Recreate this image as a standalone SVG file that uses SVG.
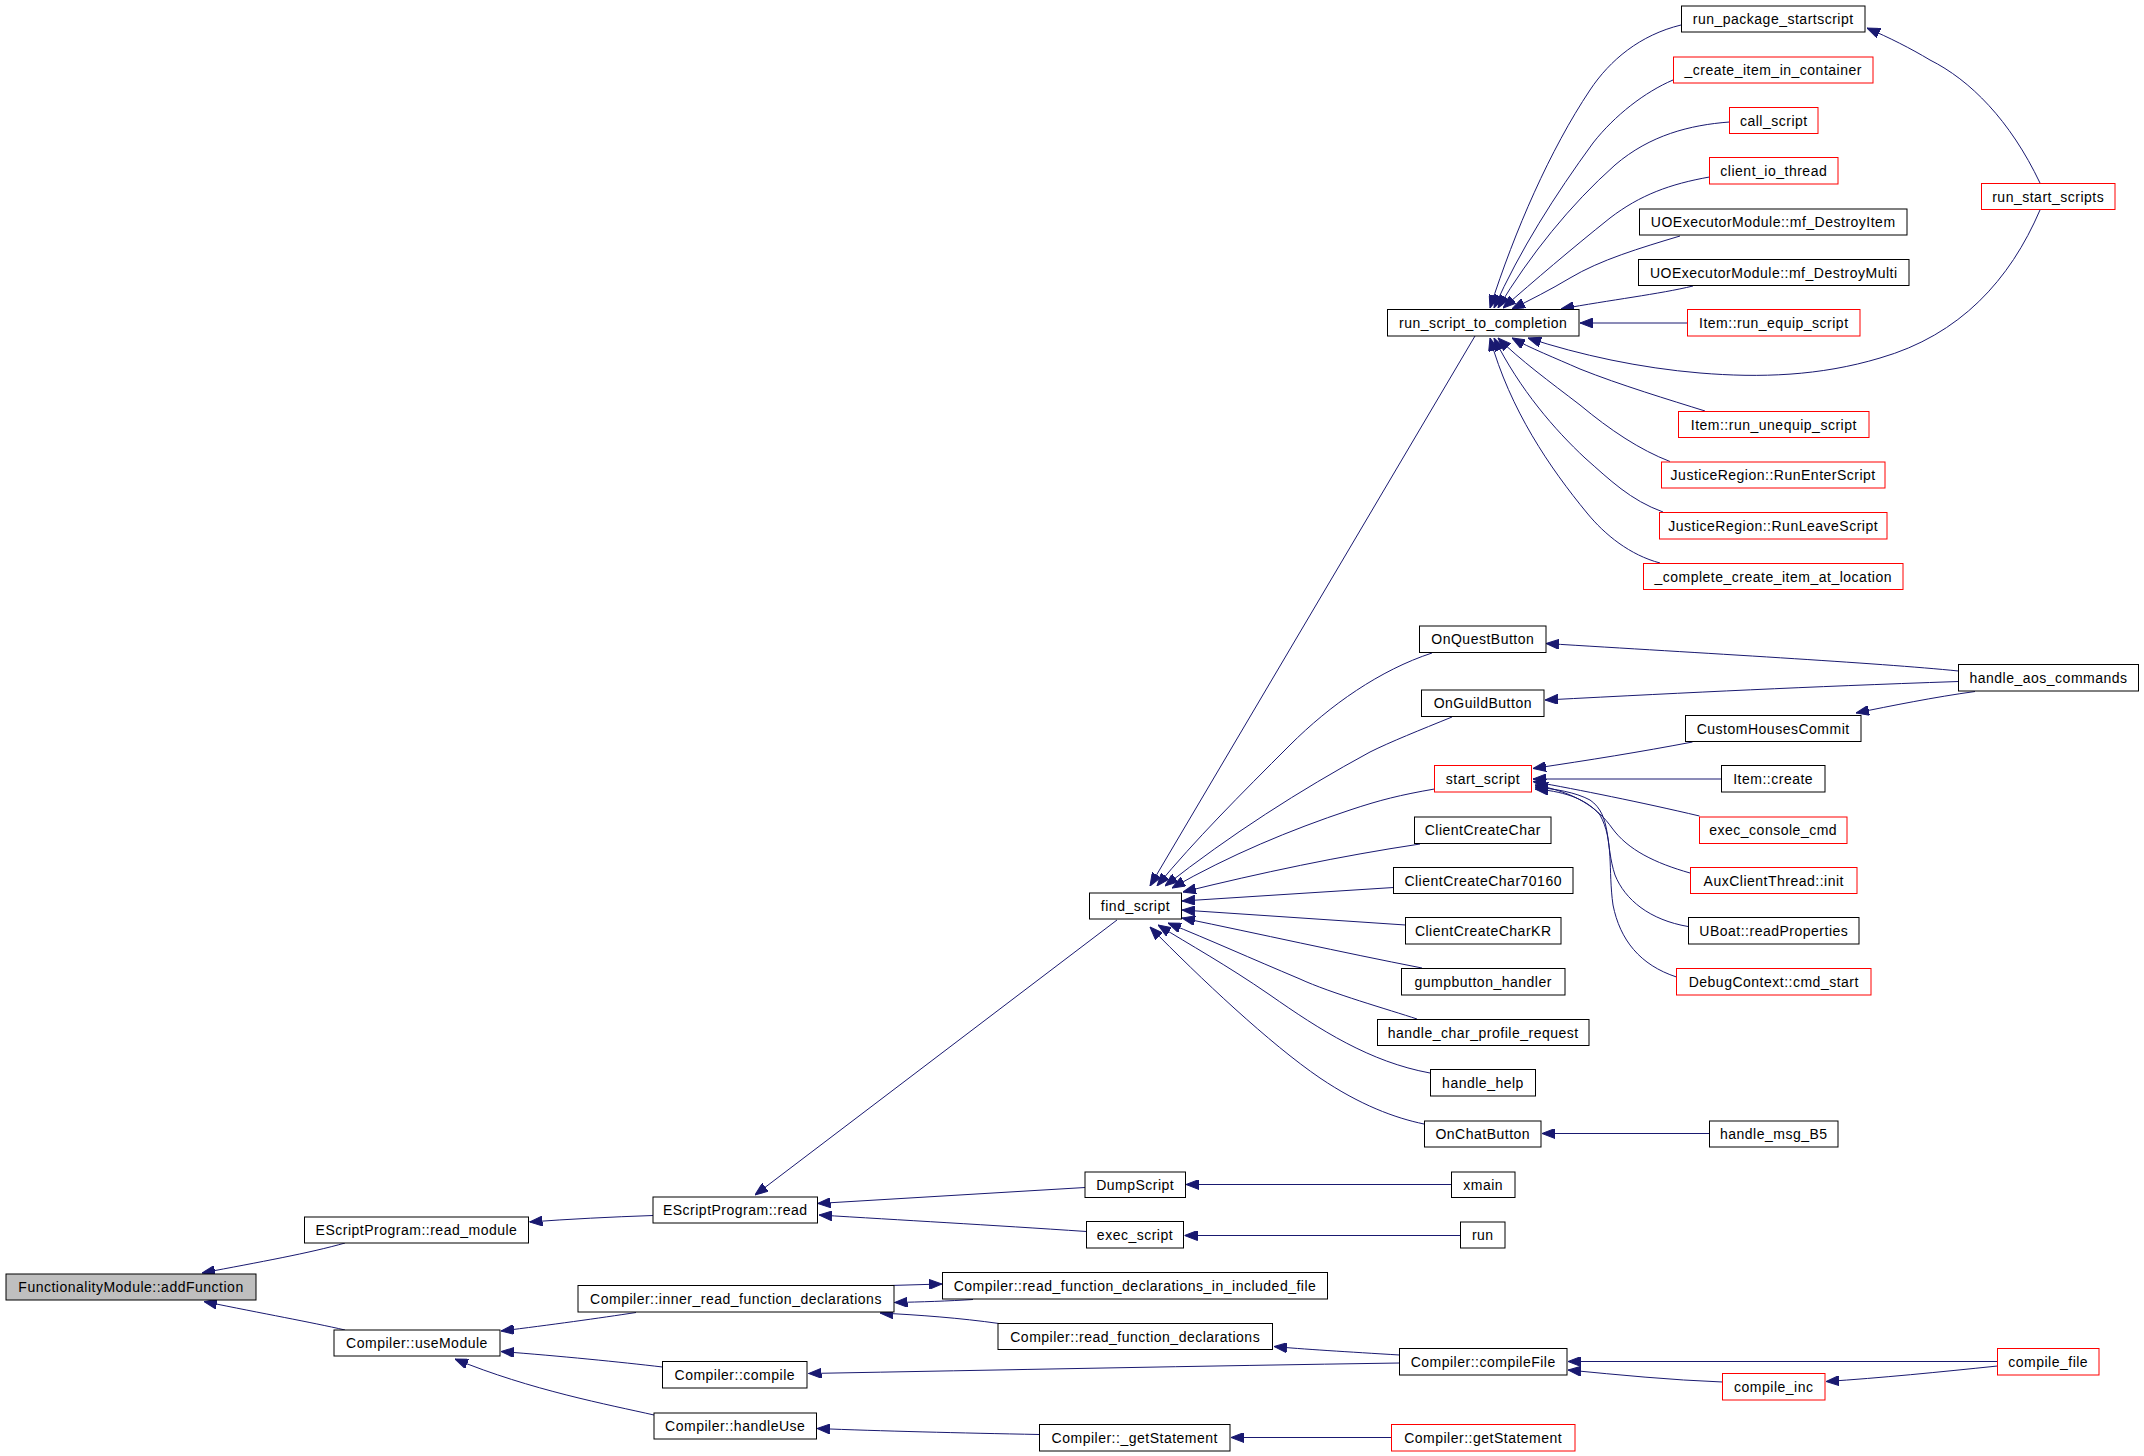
<svg xmlns="http://www.w3.org/2000/svg" width="2144" height="1456" viewBox="0 0 2144 1456">
<style>
.e{fill:none;stroke:#191970;stroke-width:1;marker-end:url(#a)}
.n rect{fill:#fff;stroke:#000;stroke-width:1}
.r rect{fill:#fff;stroke:#ff0000;stroke-width:1}
.g rect{fill:#bfbfbf;stroke:#000;stroke-width:1}
text{font-family:"Liberation Sans",Arial,sans-serif;font-size:14px;letter-spacing:0.5px;text-anchor:middle;fill:#000}
</style>
<defs>
<marker id="a" viewBox="0 0 13 10" refX="13" refY="5" markerWidth="13" markerHeight="10" markerUnits="userSpaceOnUse" orient="auto"><path d="M0,0L13,5L0,10z" fill="#191970" stroke="#191970" stroke-width="1"/></marker>
</defs>
<rect width="2144" height="1456" fill="#fff"/>
<g id="edges">
<path class="e" d="M345,1243 C310,1253 260,1262 202,1273"/>
<path class="e" d="M345,1330 C310,1322 265,1314 204,1301.5"/>
<path class="e" d="M653,1215.5 C610,1217 570,1219 529.5,1222"/>
<path class="e" d="M636,1312.5 C600,1318 550,1325 501,1331"/>
<path class="e" d="M662.5,1367 C620,1362 560,1356 501,1351.5"/>
<path class="e" d="M654,1415 C610,1405 530,1390 455,1359"/>
<path class="e" d="M1117,920 L755,1195"/>
<path class="e" d="M1085,1187.5 L817.5,1203.5"/>
<path class="e" d="M1086.5,1231.5 C990,1225 900,1220 819,1215"/>
<path class="e" d="M889.5,1285.5 L942,1284"/>
<path class="e" d="M973,1299.5 C950,1301 920,1302 894.5,1302.5"/>
<path class="e" d="M999,1323.5 C960,1318 920,1315 880,1313"/>
<path class="e" d="M1399.5,1363 C1200,1366 1000,1370 808.5,1373.5"/>
<path class="e" d="M1399.5,1355 C1350,1352 1300,1349 1274,1346.5"/>
<path class="e" d="M1039.5,1434.5 C960,1433 880,1431 817,1428.5"/>
<path class="e" d="M1391.5,1437.5 L1231,1437.5"/>
<path class="e" d="M1997.5,1361.5 L1568,1361.5"/>
<path class="e" d="M1722.5,1382 C1670,1380 1620,1375 1568,1370"/>
<path class="e" d="M1997.5,1366 C1940,1372 1880,1378 1826,1381.5"/>
<path class="e" d="M1451.5,1184.5 L1186,1184.5"/>
<path class="e" d="M1460.5,1235.5 L1184.5,1235.5"/>
<path class="e" d="M1709.5,1133.5 L1542,1133.5"/>
<path class="e" d="M1475,336 L1150,886"/>
<path class="e" d="M1432,653 C1380,670 1330,705 1290,745 C1240,795 1195,840 1157,886"/>
<path class="e" d="M1452,717 C1420,730 1390,742 1370,752 C1300,790 1230,835 1165,886"/>
<path class="e" d="M1434.5,789 C1400,795 1380,800 1350,810 C1290,830 1230,855 1172,888"/>
<path class="e" d="M1420,844 C1340,856 1260,873 1183,892"/>
<path class="e" d="M1393.5,887.5 L1182,901"/>
<path class="e" d="M1405.5,925 L1182,910"/>
<path class="e" d="M1422,968 C1340,952 1260,934 1182,918"/>
<path class="e" d="M1417,1019 C1390,1010 1330,993 1300,979 C1250,958 1210,940 1168,923"/>
<path class="e" d="M1430,1073 C1370,1062 1320,1030 1270,995 C1225,964 1190,945 1158,925"/>
<path class="e" d="M1424,1124 C1395,1118 1360,1105 1320,1078 C1270,1044 1200,978 1150,927"/>
<path class="e" d="M1681,25 C1640,35 1610,60 1590,90 C1550,150 1515,230 1490,308"/>
<path class="e" d="M1673,80 C1645,92 1615,115 1593,143 C1555,195 1520,250 1494,308"/>
<path class="e" d="M1729.5,122 C1690,125 1650,135 1615,165 C1570,205 1530,255 1498,308"/>
<path class="e" d="M1709.5,177 C1670,184 1640,195 1610,218 C1570,250 1535,280 1503,308"/>
<path class="e" d="M1680,236 C1640,248 1600,260 1570,278 C1550,290 1530,300 1512,309"/>
<path class="e" d="M1693,286 C1660,294 1610,300 1561,309"/>
<path class="e" d="M1687.5,323 L1580,323"/>
<path class="e" d="M2040,210 C2010,280 1960,335 1880,358 C1820,376 1760,378 1700,373 C1640,368 1580,355 1528,338"/>
<path class="e" d="M1705,411 C1670,400 1620,385 1580,369 C1555,358 1530,348 1512,338"/>
<path class="e" d="M1670,461.5 C1640,450 1610,430 1580,405 C1550,382 1520,360 1498,338"/>
<path class="e" d="M1663,512 C1630,500 1610,480 1585,458 C1555,430 1520,390 1494,338"/>
<path class="e" d="M1660,563 C1630,555 1605,535 1587,513 C1550,468 1510,410 1490,338"/>
<path class="e" d="M2040,183 C2010,120 1970,80 1930,60 C1910,48 1890,38 1867,28"/>
<path class="e" d="M1958.5,671 C1880,663 1700,653 1546,643.5"/>
<path class="e" d="M1958.5,681.5 C1800,687 1700,692 1545,700"/>
<path class="e" d="M1975,691.5 C1935,697 1890,706 1856,713"/>
<path class="e" d="M1692.5,742 C1640,752 1590,760 1533,768.5"/>
<path class="e" d="M1721.5,779 L1533,779"/>
<path class="e" d="M1699.5,816 C1640,802 1580,790 1533,781.5"/>
<path class="e" d="M1690,873 C1655,863 1628,850 1612,828 C1598,808 1575,792 1535,785"/>
<path class="e" d="M1688,926.5 C1650,920 1625,900 1615,875 C1605,845 1612,815 1590,800 C1575,792 1555,789 1535,787"/>
<path class="e" d="M1676.5,977 C1640,965 1620,940 1613,905 C1608,870 1614,840 1600,815 C1585,797 1560,791 1535,789"/>
</g>
<g id="n_addFunction" class="g"><rect x="6" y="1274" width="250" height="26"/><text x="131" y="1292">FunctionalityModule::addFunction</text></g>
<g id="n_read_module" class="n"><rect x="304.5" y="1217" width="224" height="26"/><text x="416.5" y="1235">EScriptProgram::read_module</text></g>
<g id="n_useModule" class="n"><rect x="334" y="1330" width="166" height="26"/><text x="417" y="1348">Compiler::useModule</text></g>
<g id="n_read" class="n"><rect x="653" y="1197" width="164.5" height="26"/><text x="735.2" y="1215">EScriptProgram::read</text></g>
<g id="n_inner_read" class="n"><rect x="578" y="1285.5" width="316" height="26.5"/><text x="736" y="1303.5">Compiler::inner_read_function_declarations</text></g>
<g id="n_compile" class="n"><rect x="662.5" y="1361.5" width="144.5" height="26.5"/><text x="734.8" y="1379.5">Compiler::compile</text></g>
<g id="n_handleUse" class="n"><rect x="654" y="1413" width="162.5" height="26"/><text x="735.2" y="1431">Compiler::handleUse</text></g>
<g id="n_find_script" class="n"><rect x="1089.5" y="893" width="92" height="26"/><text x="1135.5" y="911">find_script</text></g>
<g id="n_DumpScript" class="n"><rect x="1085" y="1172" width="100.5" height="25.5"/><text x="1135.2" y="1190">DumpScript</text></g>
<g id="n_exec_script" class="n"><rect x="1086.5" y="1221.5" width="97" height="26.5"/><text x="1135" y="1239.5">exec_script</text></g>
<g id="n_rfdiif" class="n"><rect x="942.5" y="1272.5" width="385" height="26.5"/><text x="1135" y="1290.5">Compiler::read_function_declarations_in_included_file</text></g>
<g id="n_rfd" class="n"><rect x="998" y="1323.5" width="274.5" height="26"/><text x="1135.2" y="1341.5">Compiler::read_function_declarations</text></g>
<g id="n__getStatement" class="n"><rect x="1039.5" y="1424.5" width="190.5" height="26.5"/><text x="1134.8" y="1442.5">Compiler::_getStatement</text></g>
<g id="n_run_script_to_completion" class="n"><rect x="1387.5" y="309.5" width="191.5" height="26.5"/><text x="1483.2" y="327.5">run_script_to_completion</text></g>
<g id="n_OnQuestButton" class="n"><rect x="1419.5" y="626" width="126.5" height="26.5"/><text x="1482.8" y="644">OnQuestButton</text></g>
<g id="n_OnGuildButton" class="n"><rect x="1421.5" y="690" width="122.5" height="26.5"/><text x="1482.8" y="708">OnGuildButton</text></g>
<g id="n_start_script" class="r"><rect x="1434.5" y="765.5" width="97" height="26.5"/><text x="1483" y="783.5">start_script</text></g>
<g id="n_ClientCreateChar" class="n"><rect x="1414.5" y="817" width="136.5" height="26.5"/><text x="1482.8" y="835">ClientCreateChar</text></g>
<g id="n_ClientCreateChar70160" class="n"><rect x="1393.5" y="867.5" width="179.5" height="26"/><text x="1483.2" y="885.5">ClientCreateChar70160</text></g>
<g id="n_ClientCreateCharKR" class="n"><rect x="1405.5" y="917.5" width="155.5" height="26.5"/><text x="1483.2" y="935.5">ClientCreateCharKR</text></g>
<g id="n_gumpbutton_handler" class="n"><rect x="1401.5" y="968.5" width="163.5" height="26.5"/><text x="1483.2" y="986.5">gumpbutton_handler</text></g>
<g id="n_handle_char_profile_request" class="n"><rect x="1377.5" y="1019.5" width="211.5" height="26"/><text x="1483.2" y="1037.5">handle_char_profile_request</text></g>
<g id="n_handle_help" class="n"><rect x="1430.5" y="1069.5" width="105" height="26.5"/><text x="1483" y="1087.5">handle_help</text></g>
<g id="n_OnChatButton" class="n"><rect x="1424.5" y="1121" width="116.5" height="26"/><text x="1482.8" y="1139">OnChatButton</text></g>
<g id="n_xmain" class="n"><rect x="1451.5" y="1172" width="63.5" height="25.5"/><text x="1483.2" y="1190">xmain</text></g>
<g id="n_run" class="n"><rect x="1460.5" y="1222" width="44.5" height="26"/><text x="1482.8" y="1240">run</text></g>
<g id="n_compileFile" class="n"><rect x="1399.5" y="1348.5" width="167.5" height="26.5"/><text x="1483.2" y="1366.5">Compiler::compileFile</text></g>
<g id="n_getStatement" class="r"><rect x="1391.5" y="1424.5" width="183.5" height="26.5"/><text x="1483.2" y="1442.5">Compiler::getStatement</text></g>
<g id="n_run_package_startscript" class="n"><rect x="1681.5" y="6" width="183.5" height="26"/><text x="1773.2" y="24">run_package_startscript</text></g>
<g id="n_create_item_in_container" class="r"><rect x="1673.5" y="57" width="199.5" height="26"/><text x="1773.2" y="75">_create_item_in_container</text></g>
<g id="n_call_script" class="r"><rect x="1729.5" y="107.5" width="88.5" height="26"/><text x="1773.8" y="125.5">call_script</text></g>
<g id="n_client_io_thread" class="r"><rect x="1709.5" y="157.5" width="128.5" height="26.5"/><text x="1773.8" y="175.5">client_io_thread</text></g>
<g id="n_mf_DestroyItem" class="n"><rect x="1639.5" y="209" width="267.5" height="26"/><text x="1773.2" y="227">UOExecutorModule::mf_DestroyItem</text></g>
<g id="n_mf_DestroyMulti" class="n"><rect x="1638.5" y="259.5" width="270.5" height="26"/><text x="1773.8" y="277.5">UOExecutorModule::mf_DestroyMulti</text></g>
<g id="n_run_equip_script" class="r"><rect x="1687.5" y="309.5" width="172.5" height="26.5"/><text x="1773.8" y="327.5">Item::run_equip_script</text></g>
<g id="n_run_unequip_script" class="r"><rect x="1678.5" y="411.5" width="190.5" height="26"/><text x="1773.8" y="429.5">Item::run_unequip_script</text></g>
<g id="n_RunEnterScript" class="r"><rect x="1661.5" y="462" width="223.5" height="26"/><text x="1773.2" y="480">JusticeRegion::RunEnterScript</text></g>
<g id="n_RunLeaveScript" class="r"><rect x="1659.5" y="512.5" width="227.5" height="26.5"/><text x="1773.2" y="530.5">JusticeRegion::RunLeaveScript</text></g>
<g id="n_complete_create_item_at_location" class="r"><rect x="1643.5" y="563.5" width="259.5" height="26"/><text x="1773.2" y="581.5">_complete_create_item_at_location</text></g>
<g id="n_handle_aos_commands" class="n"><rect x="1958.5" y="664.5" width="180" height="26.5"/><text x="2048.5" y="682.5">handle_aos_commands</text></g>
<g id="n_CustomHousesCommit" class="n"><rect x="1685.5" y="715.5" width="175.5" height="26"/><text x="1773.2" y="733.5">CustomHousesCommit</text></g>
<g id="n_Item_create" class="n"><rect x="1721.5" y="765.5" width="103.5" height="26.5"/><text x="1773.2" y="783.5">Item::create</text></g>
<g id="n_exec_console_cmd" class="r"><rect x="1699.5" y="817" width="147.5" height="26.5"/><text x="1773.2" y="835">exec_console_cmd</text></g>
<g id="n_AuxClientThread_init" class="r"><rect x="1690.5" y="867.5" width="166.5" height="26"/><text x="1773.8" y="885.5">AuxClientThread::init</text></g>
<g id="n_UBoat_readProperties" class="n"><rect x="1688.5" y="917.5" width="170.5" height="26.5"/><text x="1773.8" y="935.5">UBoat::readProperties</text></g>
<g id="n_DebugContext_cmd_start" class="r"><rect x="1676.5" y="968.5" width="194.5" height="26.5"/><text x="1773.8" y="986.5">DebugContext::cmd_start</text></g>
<g id="n_handle_msg_B5" class="n"><rect x="1709.5" y="1121" width="128.5" height="26"/><text x="1773.8" y="1139">handle_msg_B5</text></g>
<g id="n_compile_inc" class="r"><rect x="1722.5" y="1373.5" width="102.5" height="26.5"/><text x="1773.8" y="1391.5">compile_inc</text></g>
<g id="n_run_start_scripts" class="r"><rect x="1981.5" y="183.5" width="133.5" height="26"/><text x="2048.2" y="201.5">run_start_scripts</text></g>
<g id="n_compile_file" class="r"><rect x="1997.5" y="1348.5" width="101.5" height="26.5"/><text x="2048.2" y="1366.5">compile_file</text></g>
</svg>
